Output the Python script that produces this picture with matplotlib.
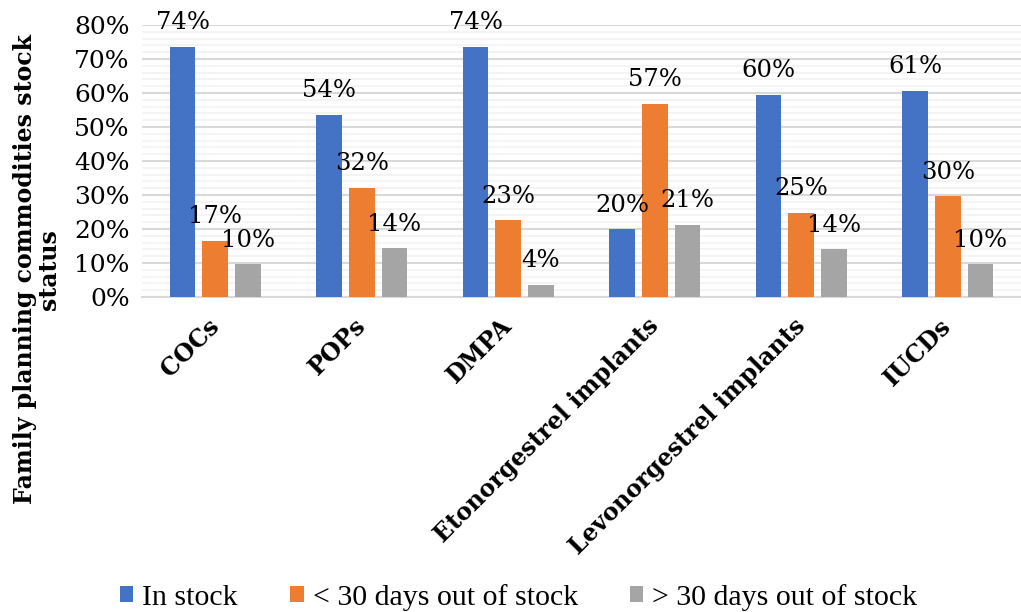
import matplotlib.pyplot as plt
import numpy as np
from matplotlib.ticker import MultipleLocator, PercentFormatter

categories = ["COCs", "POPs", "DMPA", "Etonorgestrel implants", "Levonorgestrel implants", "IUCDs"]
in_stock = [73.6, 53.6, 73.6, 20.0, 59.5, 60.6]
lt_30_days = [16.6, 32.1, 22.6, 56.9, 24.8, 29.6]
gt_30_days = [9.6, 14.3, 3.6, 21.2, 14.0, 9.6]
series_names = ["In stock", "< 30 days out of stock", "> 30 days out of stock"]
colors = ["#4472c4", "#ed7d31", "#a5a5a5"]

plt.rcParams['font.family'] = 'serif'
plt.rcParams['font.serif'] = ['DejaVu Serif', 'Liberation Serif']

fig = plt.figure(figsize=(10.21, 6.12), dpi=100)
ax = fig.add_axes([142 / 1021, 1 - 297 / 612, 879 / 1021, 272 / 612])

x = np.arange(len(categories))
width = 0.176
offsets = [-0.223, 0, 0.223]

for vals, name, col, off in zip([in_stock, lt_30_days, gt_30_days], series_names, colors, offsets):
    bars = ax.bar(x + off, vals, width, color=col, label=name, zorder=3)
    for b, v in zip(bars, vals):
        ax.annotate(f"{v:.0f}%", (b.get_x() + b.get_width() / 2, v),
                    xytext=(0, 24), textcoords="offset pixels",
                    ha="center", va="center", fontsize=17.5, zorder=4)

ax.set_xlim(-0.5, len(categories) - 0.5)
ax.set_ylim(0, 80)
ax.yaxis.set_major_locator(MultipleLocator(10))
ax.yaxis.set_minor_locator(MultipleLocator(2))
ax.yaxis.set_major_formatter(PercentFormatter(decimals=0))
ax.grid(axis="y", which="major", color="#d9d9d9", linewidth=1.5, zorder=0)
ax.grid(axis="y", which="minor", color="#f2f2f2", linewidth=1.2, zorder=0)
ax.tick_params(axis="y", which="both", length=0, labelsize=18, pad=9)
ax.tick_params(axis="x", length=0, pad=18)
for s in ["top", "right", "left"]:
    ax.spines[s].set_visible(False)
ax.spines["bottom"].set_color("#d9d9d9")
ax.spines["bottom"].set_linewidth(1.5)

ax.set_xticks(x)
ax.set_xticklabels(categories, rotation=45, ha="right", va="center",
                   rotation_mode="anchor", fontsize=17, fontweight="bold")

fig.text(0.036, 0.56, "Family planning commodities stock\nstatus", rotation=90,
         ha="center", va="center", fontsize=17, fontweight="bold", multialignment="center",
         linespacing=1.0)

ax.legend(loc="center", bbox_to_anchor=(0.508, 0.024), bbox_transform=fig.transFigure,
          ncol=3, frameon=False, handlelength=0.45, handleheight=0.45, handletextpad=0.3,
          columnspacing=1.75, prop={"family": "Liberation Serif", "size": 21.5})

fig.savefig("out.png", dpi=100)
